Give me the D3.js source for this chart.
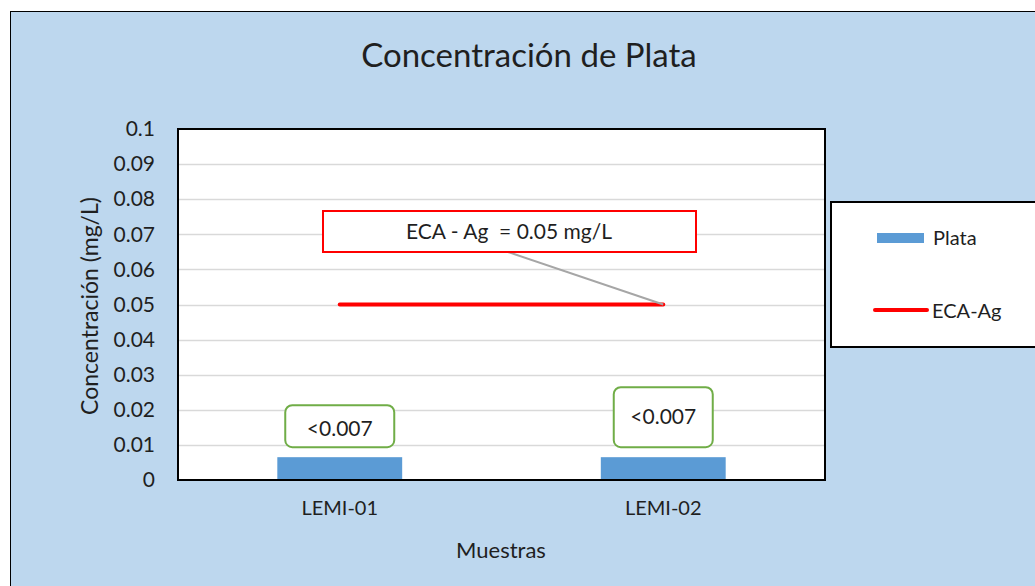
<!DOCTYPE html>
<html>
<head>
<meta charset="utf-8">
<script src="https://cdn.jsdelivr.net/npm/d3@7"></script>
<style>
  body { margin: 0; background: #fff; }
  text { font-family: Lato, "Noto Sans", sans-serif; fill: #1f1f1f; }
</style>
</head>
<body>
<div id="chart"></div>
<script>
var categories = ["LEMI-01", "LEMI-02"];
var plataValues = [0.0065, 0.0065];
var plataLabels = ["<0.007", "<0.007"];
var ecaValue = 0.05;
var yTicks = [0, 0.01, 0.02, 0.03, 0.04, 0.05, 0.06, 0.07, 0.08, 0.09, 0.1];
var yTickLabels = ["0", "0.01", "0.02", "0.03", "0.04", "0.05", "0.06", "0.07", "0.08", "0.09", "0.1"];

(function(){
    var width = 1035,
        height = 586;

    var svg = d3.select("#chart")
        .append("svg")
        .attr("width", width)
        .attr("height", height);

    // chart area
    svg.append("rect")
        .attr("x", 10.5)
        .attr("y", 11.5)
        .attr("width", width)
        .attr("height", height)
        .attr("fill", "#BDD7EE")
        .attr("stroke", "#000")
        .attr("stroke-width", 1);

    var plot = { left: 178, top: 129, right: 825, bottom: 480 };

    var x = d3.scaleBand()
        .domain(categories)
        .range([plot.left, plot.right])
        .paddingInner(0.614)
        .paddingOuter(0.307);

    var y = d3.scaleLinear()
        .domain([0, 0.1])
        .range([plot.bottom, plot.top]);

    svg.append("rect")
        .attr("x", plot.left)
        .attr("y", plot.top)
        .attr("width", plot.right - plot.left)
        .attr("height", plot.bottom - plot.top)
        .attr("fill", "#fff");

    // gridlines
    svg.append("g")
        .selectAll("line")
        .data(yTicks.slice(1, -1))
        .enter().append("line")
        .attr("x1", plot.left)
        .attr("x2", plot.right)
        .attr("y1", function(d){ return Math.round(y(d)) + 0.5; })
        .attr("y2", function(d){ return Math.round(y(d)) + 0.5; })
        .attr("stroke", "#D9D9D9")
        .attr("stroke-width", 1.5);

    // y axis labels
    var yAxis = d3.axisLeft(y)
        .tickValues(yTicks)
        .tickFormat(function(d, i){ return yTickLabels[i]; })
        .tickSize(0)
        .tickPadding(23);

    var gy = svg.append("g")
        .attr("transform", "translate(" + plot.left + ",0)")
        .call(yAxis);
    gy.select(".domain").remove();
    gy.selectAll("text")
        .style("font-family", "Lato, 'Noto Sans', sans-serif")
        .style("font-size", "21px")
        .attr("fill", "#1f1f1f");

    // x axis labels
    var xAxis = d3.axisBottom(x).tickSize(0).tickPadding(21);
    var gx = svg.append("g")
        .attr("transform", "translate(0," + plot.bottom + ")")
        .call(xAxis);
    gx.select(".domain").remove();
    gx.selectAll("text")
        .style("font-family", "Lato, 'Noto Sans', sans-serif")
        .style("font-size", "20px")
        .attr("fill", "#1f1f1f");

    // bars
    svg.selectAll(".bar")
        .data(plataValues)
        .enter().append("rect")
        .attr("class", "bar")
        .attr("x", function(d, i){ return x(categories[i]); })
        .attr("y", function(d){ return y(d); })
        .attr("width", x.bandwidth())
        .attr("height", function(d){ return y(0) - y(d); })
        .attr("fill", "#5B9BD5");

    // ECA line
    svg.append("line")
        .attr("x1", x(categories[0]) + x.bandwidth() / 2)
        .attr("x2", x(categories[1]) + x.bandwidth() / 2)
        .attr("y1", y(ecaValue))
        .attr("y2", y(ecaValue))
        .attr("stroke", "#FF0000")
        .attr("stroke-width", 4)
        .attr("stroke-linecap", "round");

    // plot border
    svg.append("rect")
        .attr("x", plot.left)
        .attr("y", plot.top)
        .attr("width", plot.right - plot.left)
        .attr("height", plot.bottom - plot.top)
        .attr("fill", "none")
        .attr("stroke", "#000")
        .attr("stroke-width", 2);

    // callout for ECA line
    var calloutEnd = [x(categories[1]) + x.bandwidth() / 2, y(ecaValue)];
    svg.append("line")
        .attr("x1", 508)
        .attr("y1", 252)
        .attr("x2", calloutEnd[0])
        .attr("y2", calloutEnd[1])
        .attr("stroke", "#A6A6A6")
        .attr("stroke-width", 2);
    svg.append("rect")
        .attr("x", 323)
        .attr("y", 211)
        .attr("width", 373)
        .attr("height", 41)
        .attr("fill", "#fff")
        .attr("stroke", "#FF0000")
        .attr("stroke-width", 2);
    svg.append("text")
        .attr("x", 509)
        .attr("y", 232)
        .attr("dy", "0.35em")
        .attr("text-anchor", "middle")
        .attr("xml:space", "preserve")
        .style("font-size", "21px")
        .text("ECA - Ag  = 0.05 mg/L");

    // data labels
    var labelBoxes = [
        { w: 109, h: 42, ty: -27 },
        { w: 99, h: 60, ty: -39 }
    ];
    var lbl = svg.selectAll(".dlabel")
        .data(plataValues)
        .enter().append("g")
        .attr("class", "dlabel")
        .attr("transform", function(d, i){
            return "translate(" + (x(categories[i]) + x.bandwidth() / 2) + "," + (y(d) - 2) + ")";
        });
    lbl.append("rect")
        .attr("x", function(d, i){ return -labelBoxes[i].w / 2; })
        .attr("y", function(d, i){ return -labelBoxes[i].h - 8; })
        .attr("width", function(d, i){ return labelBoxes[i].w; })
        .attr("height", function(d, i){ return labelBoxes[i].h; })
        .attr("rx", 7)
        .attr("fill", "#fff")
        .attr("stroke", "#70AD47")
        .attr("stroke-width", 2);
    lbl.append("text")
        .attr("y", function(d, i){ return labelBoxes[i].ty; })
        .attr("dy", "0.35em")
        .attr("text-anchor", "middle")
        .style("font-size", "21px")
        .text(function(d, i){ return plataLabels[i]; });

    // title
    svg.append("text")
        .attr("x", 529)
        .attr("y", 55)
        .attr("dy", "0.35em")
        .attr("text-anchor", "middle")
        .style("font-size", "33px")
        .attr("fill", "#0D0D0D")
        .text("Concentración de Plata");

    // axis titles
    svg.append("text")
        .attr("transform", "translate(90,306) rotate(-90)")
        .attr("dy", "0.35em")
        .attr("text-anchor", "middle")
        .style("font-size", "23px")
        .text("Concentración (mg/L)");

    svg.append("text")
        .attr("x", 501)
        .attr("y", 550)
        .attr("dy", "0.35em")
        .attr("text-anchor", "middle")
        .style("font-size", "22px")
        .text("Muestras");

    // legend
    var legend = svg.append("g");
    legend.append("rect")
        .attr("x", 831)
        .attr("y", 202)
        .attr("width", 260)
        .attr("height", 145)
        .attr("fill", "#fff")
        .attr("stroke", "#000")
        .attr("stroke-width", 2);
    legend.append("rect")
        .attr("x", 877)
        .attr("y", 233)
        .attr("width", 47)
        .attr("height", 10)
        .attr("fill", "#5B9BD5");
    legend.append("text")
        .attr("x", 933)
        .attr("y", 238)
        .attr("dy", "0.35em")
        .style("font-size", "20px")
        .text("Plata");
    legend.append("line")
        .attr("x1", 875)
        .attr("x2", 927)
        .attr("y1", 310)
        .attr("y2", 310)
        .attr("stroke", "#FF0000")
        .attr("stroke-width", 4)
        .attr("stroke-linecap", "round");
    legend.append("text")
        .attr("x", 932)
        .attr("y", 311)
        .attr("dy", "0.35em")
        .style("font-size", "20px")
        .text("ECA-Ag");
})();
</script>
</body>
</html>
